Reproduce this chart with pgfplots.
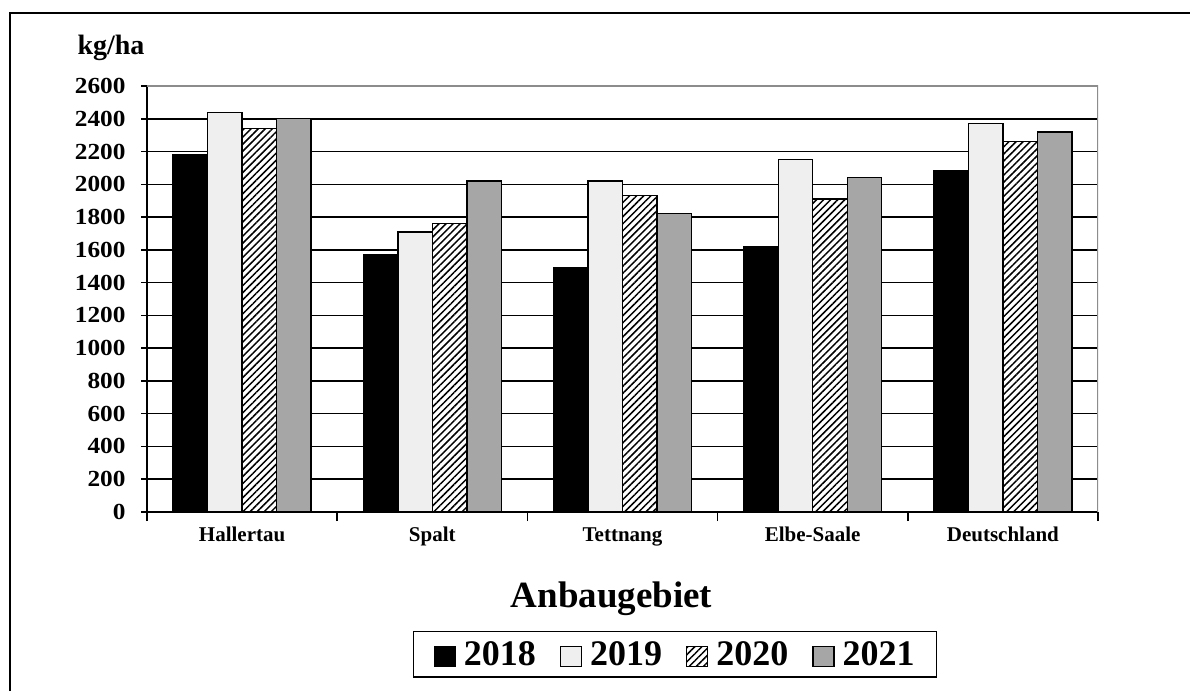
\documentclass[border=0pt]{standalone}
\usepackage{fontspec}
\setmainfont{Liberation Serif}
\usepackage{pgfplots}
\pgfplotsset{compat=1.18}
\usetikzlibrary{patterns,patterns.meta}
\definecolor{c2019}{HTML}{EFEFEF}
\definecolor{c2021}{HTML}{A6A6A6}
\definecolor{frameg}{HTML}{8C8C8C}
\begin{document}
\begin{tikzpicture}[x=1pt,y=1pt]
\useasboundingbox (0,0) rectangle (1190,691);
\fill[white] (0,0) rectangle (1190,691);
\draw[line width=2pt] (10,0) -- (10,678) -- (1190,678);
\node[anchor=base, font=\fontsize{28}{28}\selectfont\bfseries] at (111,636) {kg/ha};
\node[anchor=base, font=\fontsize{37}{37}\selectfont\bfseries] at (611.5,84) {Anbaugebiet};
\begin{axis}[
  at={(147pt,179pt)}, anchor=south west,
  width=951pt, height=426pt, scale only axis,
  ymin=0, ymax=2600, ytick={0,200,...,2600},
  xmin=-0.5, xmax=4.5,
  xtick={0,1,2,3,4},
  xticklabels={Hallertau,Spalt,Tettnang,Elbe-Saale,Deutschland},
  minor xtick={-0.5,0.5,1.5,2.5,3.5,4.5},
  major x tick style={draw=none},
  minor x tick style={black, line width=1.5pt},
  major y tick style={black, line width=1.5pt},
  xtick align=outside,
  ytick align=center,
  major tick length=12pt,
  minor tick length=9pt,
  axis x line*=bottom, axis y line*=left,
  axis line style={black, line width=1.8pt, -},
  ymajorgrids, grid style={black, line width=1.5pt},
  /pgf/number format/assume math mode=true,
  /pgf/number format/1000 sep={},
  yticklabel={\scalebox{1.1}[1]{\pgfmathprintnumber{\tick}}},
  yticklabel style={font=\fontsize{23}{23}\selectfont\bfseries, xshift=-12pt},
  xticklabel style={font=\fontsize{21}{21}\selectfont\bfseries, text height=15pt, text depth=5pt, yshift=1pt},
  ybar=0pt, bar width=34.5pt,
  every axis plot/.append style={draw=black, line width=1.4pt},
  legend image code/.code={\draw[#1, line width=1.2pt] (0pt,-12pt) rectangle (21pt,8pt);},
  legend style={at={(0.2797,-0.2793)}, anchor=north west, draw=black, line width=1.5pt,
    font=\fontsize{36}{36}\selectfont\bfseries, legend columns=4,
    /tikz/every odd column/.append style={column sep=6pt},
    /tikz/every even column/.append style={column sep=22pt},
    inner xsep=20pt, inner ysep=8pt},
]
\addplot[fill=black] coordinates {(0,2180) (1,1570) (2,1490) (3,1620) (4,2080)};
\addplot[fill=c2019] coordinates {(0,2440) (1,1710) (2,2020) (3,2150) (4,2370)};
\addplot[fill=white, postaction={pattern={Lines[angle=45,distance=5pt,line width=1.5pt]}}] coordinates {(0,2340) (1,1760) (2,1930) (3,1910) (4,2260)};
\addplot[fill=c2021] coordinates {(0,2400) (1,2020) (2,1820) (3,2040) (4,2320)};
\legend{2018,2019,2020,2021}
\draw[frameg, line width=2pt] (rel axis cs:0,1) -- (rel axis cs:1,1) -- (rel axis cs:1,0);
\end{axis}
\end{tikzpicture}
\end{document}
